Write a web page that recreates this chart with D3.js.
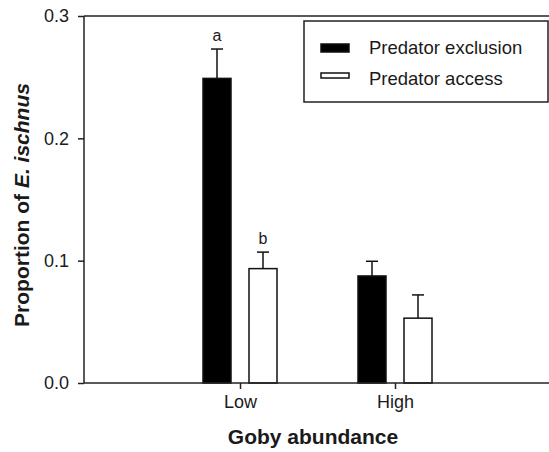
<!DOCTYPE html>
<html>
<head>
<meta charset="utf-8">
<script src="https://cdn.jsdelivr.net/npm/d3@7"></script>
<style>
  body { margin: 0; background: #fff; }
  text { font-family: "Liberation Sans", Arial, sans-serif; fill: #1a1a1a; }
</style>
</head>
<body>
<script>
let groups = ["Low", "High"];
let series = ["Predator exclusion", "Predator access"];
let means = [[0.249, 0.0935], [0.0875, 0.053]];
let errors = [[0.024, 0.0135], [0.012, 0.019]];
let letters = [["a", "b"], ["", ""]];
let yTicks = [0, 0.1, 0.2, 0.3];

let W = 549, H = 452;
let svg = d3.select("body").append("svg")
    .attr("width", W).attr("height", H);

let y = d3.scaleLinear().domain([0, 0.3]).range([383, 16]);
let x = d3.scalePoint().domain(groups).range([240, 395]);
let xs = d3.scaleBand().domain(series).range([-37, 37]).paddingInner(18 / 46);
let fills = ["#000", "#fff"];

// top frame line
svg.append("line")
    .attr("x1", 84).attr("x2", 549)
    .attr("y1", y(0.3)).attr("y2", y(0.3))
    .attr("stroke", "#222").attr("stroke-width", 1.5);

// bars
let rows = [];
groups.forEach((g, i) => series.forEach((s, j) => rows.push({g, s, j, v: means[i][j], e: errors[i][j], l: letters[i][j]})));

let bars = svg.selectAll("g.bar").data(rows).enter().append("g").attr("class", "bar");
bars.append("line")
    .attr("x1", d => x(d.g) + xs(d.s) + xs.bandwidth() / 2)
    .attr("x2", d => x(d.g) + xs(d.s) + xs.bandwidth() / 2)
    .attr("y1", d => y(d.v)).attr("y2", d => y(d.v + d.e))
    .attr("stroke", "#111").attr("stroke-width", 1.5);
bars.append("line")
    .attr("x1", d => x(d.g) + xs(d.s) + xs.bandwidth() / 2 - 6)
    .attr("x2", d => x(d.g) + xs(d.s) + xs.bandwidth() / 2 + 6)
    .attr("y1", d => y(d.v + d.e)).attr("y2", d => y(d.v + d.e))
    .attr("stroke", "#111").attr("stroke-width", 1.5);
bars.append("rect")
    .attr("x", d => x(d.g) + xs(d.s))
    .attr("y", d => y(d.v))
    .attr("width", xs.bandwidth())
    .attr("height", d => y(0) - y(d.v))
    .attr("fill", d => fills[d.j])
    .attr("stroke", "#111").attr("stroke-width", 1.5);
bars.append("text")
    .attr("x", d => x(d.g) + xs(d.s) + xs.bandwidth() / 2)
    .attr("y", d => y(d.v + d.e) - 8)
    .attr("text-anchor", "middle")
    .style("font-size", "16px")
    .text(d => d.l);

// axes
let yAxis = svg.append("g").attr("transform", "translate(84,0)")
    .call(d3.axisLeft(y).tickValues(yTicks).tickFormat(d3.format(".1f")).tickSize(6).tickPadding(9));
let xAxis = svg.append("g").attr("transform", "translate(0," + y(0) + ")")
    .call(d3.axisBottom(x).tickSize(6).tickPadding(6));
[yAxis, xAxis].forEach(a => {
  a.select(".domain").remove();
  a.selectAll("line").attr("stroke", "#222").attr("stroke-width", 1.5);
  a.selectAll("text").style("font-size", "18px").style("font-family", "Liberation Sans, Arial, sans-serif").attr("fill", "#1a1a1a");
});
svg.append("line").attr("x1", 84).attr("x2", 84).attr("y1", y(0.3)).attr("y2", y(0))
    .attr("stroke", "#222").attr("stroke-width", 1.5);
svg.append("line").attr("x1", 84).attr("x2", 549).attr("y1", y(0)).attr("y2", y(0))
    .attr("stroke", "#222").attr("stroke-width", 1.5);

// axis titles
svg.append("text")
    .attr("x", 313).attr("y", 444)
    .attr("text-anchor", "middle")
    .style("font-size", "21px").style("font-weight", "bold")
    .text("Goby abundance");
let yl = svg.append("text")
    .attr("transform", "translate(29,205) rotate(-90)")
    .attr("text-anchor", "middle")
    .style("font-size", "21px").style("font-weight", "bold");
yl.append("tspan").text("Proportion of ");
yl.append("tspan").style("font-style", "italic").text("E. ischnus");

// legend
let lg = svg.append("g");
lg.append("rect").attr("x", 304).attr("y", 21).attr("width", 244).attr("height", 81)
    .attr("fill", "#fff").attr("stroke", "#222").attr("stroke-width", 1.5);
let items = lg.selectAll("g.item").data(series).enter().append("g")
    .attr("transform", (d, i) => "translate(0," + (i * 31) + ")");
items.append("rect")
    .attr("x", 321).attr("y", (d, i) => i ? 42 : 44)
    .attr("width", 28).attr("height", (d, i) => i ? 5 : 8)
    .attr("fill", (d, i) => fills[i])
    .attr("stroke", "#111").attr("stroke-width", 1.5);
items.append("text")
    .attr("x", 369).attr("y", 54)
    .style("font-size", "18.5px")
    .text(d => d);
</script>
</body>
</html>
